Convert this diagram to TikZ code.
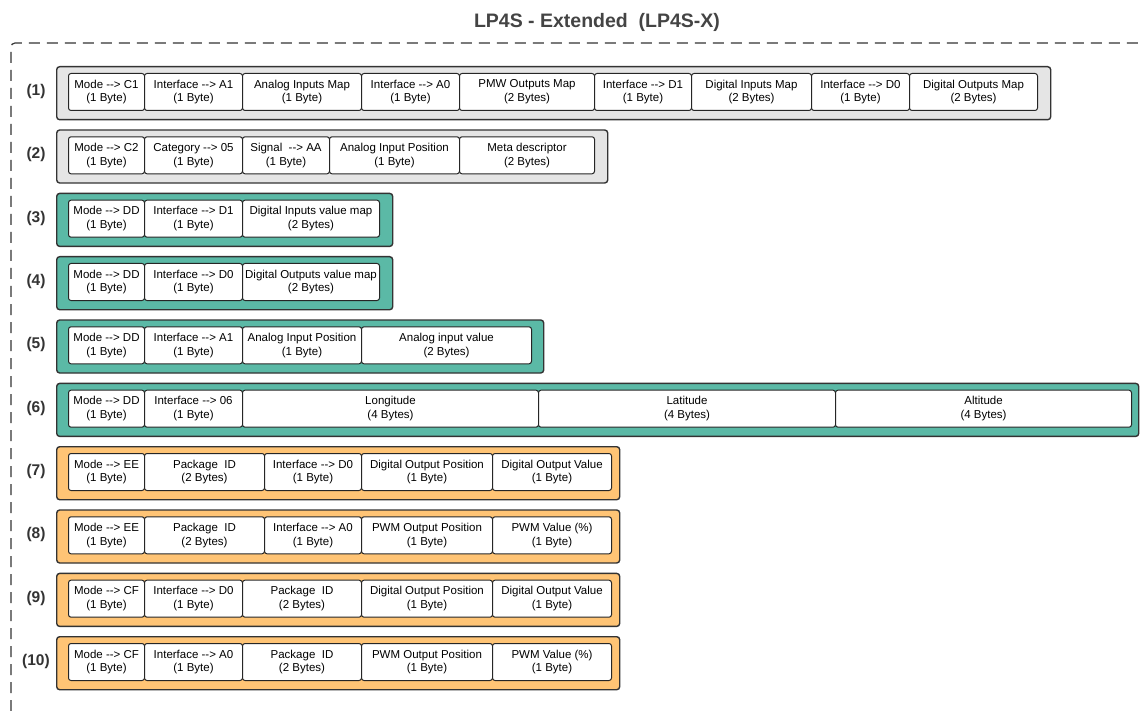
\documentclass[tikz,border=0pt]{standalone}
\usepackage{fontspec}
\setmainfont{Liberation Sans}[Ligatures=TeXOff]
\definecolor{edgegray}{HTML}{333333}
\definecolor{titlegray}{HTML}{444444}
\definecolor{cfgfill}{HTML}{E5E5E5}
\definecolor{valfill}{HTML}{5BB9A6}
\definecolor{cmdfill}{HTML}{FFC475}

\begin{document}
\begin{tikzpicture}[x=1pt, y=-1pt,
  rowframe/.style={draw=edgegray, line width=1.4pt, rounded corners=3pt, anchor=north west, minimum height=53pt, inner sep=0pt},
  field/.style={draw=black!85, fill=white, line width=1pt, rounded corners=2.5pt, anchor=north west, minimum height=37pt, inner sep=1pt, align=center, font=\fontsize{11.5}{13.8}\selectfont},
  rowlabel/.style={font=\fontsize{15.5}{18}\selectfont\bfseries, text=edgegray}]

\useasboundingbox (0,0) rectangle (1140,711);

\node[font=\fontsize{19.5}{23}\selectfont\bfseries, text=titlegray] (title) at (597,22) {LP4S - Extended\ \ (LP4S-X)};
\draw[edgegray, line width=1.2pt, rounded corners=4pt, dash pattern=on 11pt off 7pt] (11,711) -- (11,43) -- (1140,43);

% (1) configuration
\node[rowlabel] (lab1) at (36,91.5) {(1)};
\node[rowframe, fill=cfgfill, minimum width=994pt] (row1) at (56,66) {};
\node[field, minimum width=76pt] (r1a) at (68,73) {Mode --> C1\\(1 Byte)};
\node[field, minimum width=98pt] (r1b) at (144,73) {Interface --> A1\\(1 Byte)};
\node[field, minimum width=119pt] (r1c) at (242,73) {Analog Inputs Map\\(1 Byte)};
\node[field, minimum width=98pt] (r1d) at (361,73) {Interface --> A0\\(1 Byte)};
\node[field, minimum width=135pt] (r1e) at (459,73) {PMW Outputs Map\\(2 Bytes)};
\node[field, minimum width=97pt] (r1f) at (594,73) {Interface --> D1\\(1 Byte)};
\node[field, minimum width=120pt] (r1g) at (691,73) {Digital Inputs Map\\(2 Bytes)};
\node[field, minimum width=98pt] (r1h) at (811,73) {Interface --> D0\\(1 Byte)};
\node[field, minimum width=128pt] (r1i) at (909,73) {Digital Outputs Map\\(2 Bytes)};

% (2)
\node[rowlabel] (lab2) at (36,154.8) {(2)};
\node[rowframe, fill=cfgfill, minimum width=551pt] (row2) at (56,129.3) {};
\node[field, minimum width=76pt] (r2a) at (68,136.3) {Mode --> C2\\(1 Byte)};
\node[field, minimum width=98pt] (r2b) at (144,136.3) {Category --> 05\\(1 Byte)};
\node[field, minimum width=87pt] (r2c) at (242,136.3) {Signal\ \ --> AA\\(1 Byte)};
\node[field, minimum width=130pt] (r2d) at (329,136.3) {Analog Input Position\\(1 Byte)};
\node[field, minimum width=135pt] (r2e) at (459,136.3) {Meta descriptor\\(2 Bytes)};

% (3) values
\node[rowlabel] (lab3) at (36,218.2) {(3)};
\node[rowframe, fill=valfill, minimum width=336pt] (row3) at (56,192.7) {};
\node[field, minimum width=76pt] (r3a) at (68,199.7) {Mode --> DD\\(1 Byte)};
\node[field, minimum width=98pt] (r3b) at (144,199.7) {Interface --> D1\\(1 Byte)};
\node[field, minimum width=137pt] (r3c) at (242,199.7) {Digital Inputs value map\\(2 Bytes)};

% (4)
\node[rowlabel] (lab4) at (36,281.5) {(4)};
\node[rowframe, fill=valfill, minimum width=336pt] (row4) at (56,256) {};
\node[field, minimum width=76pt] (r4a) at (68,263) {Mode --> DD\\(1 Byte)};
\node[field, minimum width=98pt] (r4b) at (144,263) {Interface --> D0\\(1 Byte)};
\node[field, minimum width=137pt] (r4c) at (242,263) {Digital Outputs value map\\(2 Bytes)};

% (5)
\node[rowlabel] (lab5) at (36,344.8) {(5)};
\node[rowframe, fill=valfill, minimum width=487pt] (row5) at (56,319.3) {};
\node[field, minimum width=76pt] (r5a) at (68,326.3) {Mode --> DD\\(1 Byte)};
\node[field, minimum width=98pt] (r5b) at (144,326.3) {Interface --> A1\\(1 Byte)};
\node[field, minimum width=119pt] (r5c) at (242,326.3) {Analog Input Position\\(1 Byte)};
\node[field, minimum width=170pt] (r5d) at (361,326.3) {Analog input value\\(2 Bytes)};

% (6)
\node[rowlabel] (lab6) at (36,408.2) {(6)};
\node[rowframe, fill=valfill, minimum width=1082pt] (row6) at (56,382.7) {};
\node[field, minimum width=76pt] (r6a) at (68,389.7) {Mode --> DD\\(1 Byte)};
\node[field, minimum width=98pt] (r6b) at (144,389.7) {Interface --> 06\\(1 Byte)};
\node[field, minimum width=296pt] (r6c) at (242,389.7) {Longitude\\(4 Bytes)};
\node[field, minimum width=297pt] (r6d) at (538,389.7) {Latitude\\(4 Bytes)};
\node[field, minimum width=296pt] (r6e) at (835,389.7) {Altitude\\(4 Bytes)};

% (7) commands
\node[rowlabel] (lab7) at (36,471.5) {(7)};
\node[rowframe, fill=cmdfill, minimum width=563pt] (row7) at (56,446) {};
\node[field, minimum width=76pt] (r7a) at (68,453) {Mode --> EE\\(1 Byte)};
\node[field, minimum width=120pt] (r7b) at (144,453) {Package\ \ ID\\(2 Bytes)};
\node[field, minimum width=97pt] (r7c) at (264,453) {Interface --> D0\\(1 Byte)};
\node[field, minimum width=131pt] (r7d) at (361,453) {Digital Output Position\\(1 Byte)};
\node[field, minimum width=119pt] (r7e) at (492,453) {Digital Output Value\\(1 Byte)};

% (8)
\node[rowlabel] (lab8) at (36,534.8) {(8)};
\node[rowframe, fill=cmdfill, minimum width=563pt] (row8) at (56,509.3) {};
\node[field, minimum width=76pt] (r8a) at (68,516.3) {Mode --> EE\\(1 Byte)};
\node[field, minimum width=120pt] (r8b) at (144,516.3) {Package\ \ ID\\(2 Bytes)};
\node[field, minimum width=97pt] (r8c) at (264,516.3) {Interface --> A0\\(1 Byte)};
\node[field, minimum width=131pt] (r8d) at (361,516.3) {PWM Output Position\\(1 Byte)};
\node[field, minimum width=119pt] (r8e) at (492,516.3) {PWM Value (\%)\\(1 Byte)};

% (9)
\node[rowlabel] (lab9) at (36,598.2) {(9)};
\node[rowframe, fill=cmdfill, minimum width=563pt] (row9) at (56,572.7) {};
\node[field, minimum width=76pt] (r9a) at (68,579.7) {Mode --> CF\\(1 Byte)};
\node[field, minimum width=98pt] (r9b) at (144,579.7) {Interface --> D0\\(1 Byte)};
\node[field, minimum width=119pt] (r9c) at (242,579.7) {Package\ \ ID\\(2 Bytes)};
\node[field, minimum width=131pt] (r9d) at (361,579.7) {Digital Output Position\\(1 Byte)};
\node[field, minimum width=119pt] (r9e) at (492,579.7) {Digital Output Value\\(1 Byte)};

% (10)
\node[rowlabel] (lab10) at (36,661.5) {(10)};
\node[rowframe, fill=cmdfill, minimum width=563pt] (row10) at (56,636) {};
\node[field, minimum width=76pt] (r10a) at (68,643) {Mode --> CF\\(1 Byte)};
\node[field, minimum width=98pt] (r10b) at (144,643) {Interface --> A0\\(1 Byte)};
\node[field, minimum width=119pt] (r10c) at (242,643) {Package\ \ ID\\(2 Bytes)};
\node[field, minimum width=131pt] (r10d) at (361,643) {PWM Output Position\\(1 Byte)};
\node[field, minimum width=119pt] (r10e) at (492,643) {PWM Value (\%)\\(1 Byte)};
\end{tikzpicture}
\end{document}
